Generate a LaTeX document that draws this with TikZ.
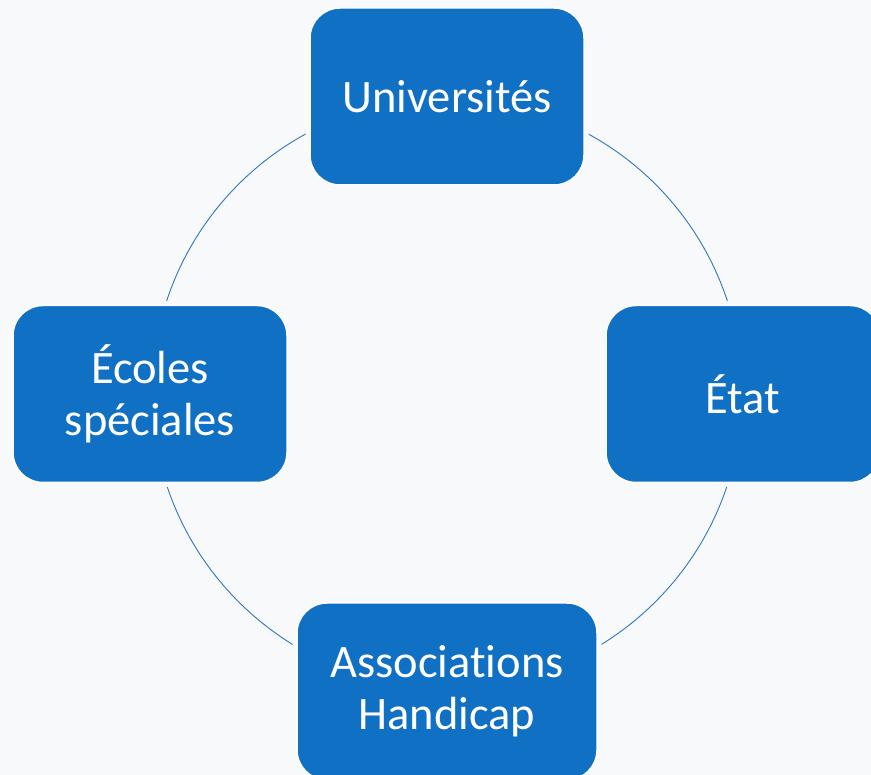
\documentclass[tikz,border=0pt]{standalone}
\usepackage{fontspec}
\setmainfont{Carlito}[Ligatures=NoCommon]
\definecolor{bg}{HTML}{F8F9FA}
\definecolor{boxblue}{HTML}{1070C4}
\definecolor{ringblue}{HTML}{2E75C0}
\begin{document}
\begin{tikzpicture}[x=1pt,y=-1pt,
  box/.style={fill=boxblue, draw=white, line width=1.5pt, rounded corners=30pt,
    minimum width=274pt, minimum height=177pt, inner sep=0pt,
    text=white, align=center, font=\fontsize{46.5}{52}\selectfont,
    preaction={draw=bg, line width=9pt}},
  ring/.style={draw=ringblue, line width=0.9pt}]
\clip (0,0) rectangle (871,775);
\fill[bg] (0,0) rectangle (871,775);
\coordinate (o) at (447,393);
\draw[ring] (o) circle (295);
\node[box] (u) at (447,96.5) {Universités};
\node[box] (c) at (150,394) {Écoles\\spéciales};
\node[box] (e) at (743,394) {État};
\node[box, minimum width=300pt] (a) at (447,691.5) {Associations\\Handicap};
\end{tikzpicture}
\end{document}
